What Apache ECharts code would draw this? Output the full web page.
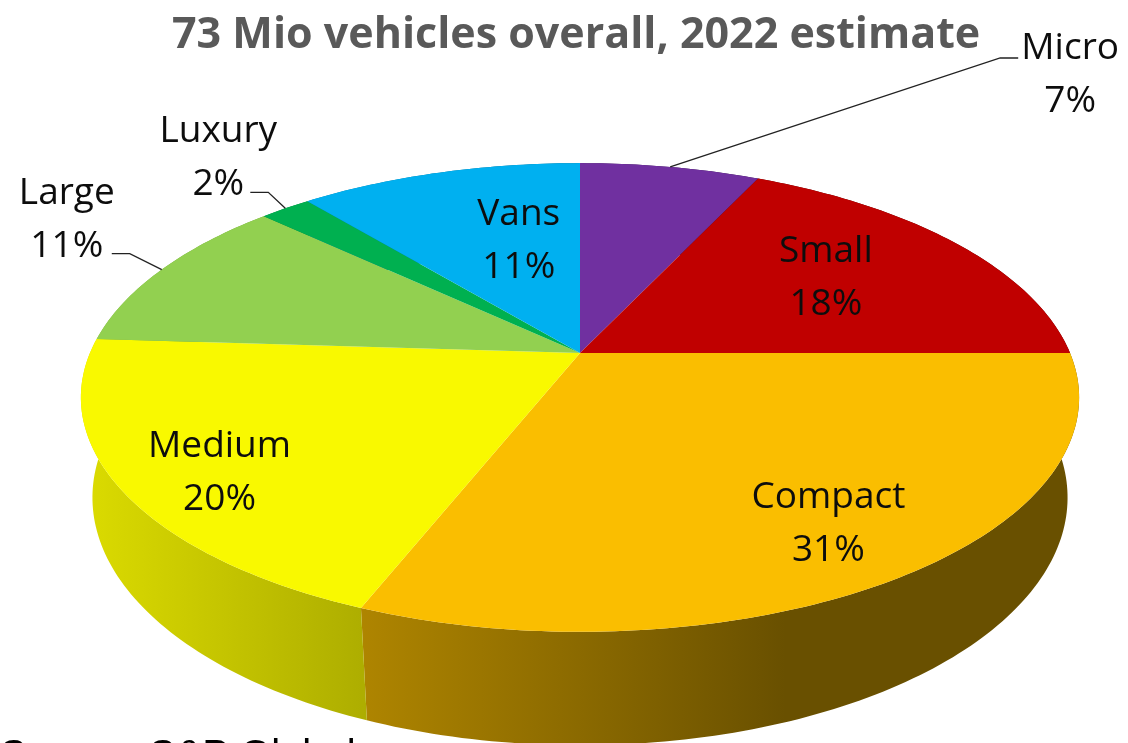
<!DOCTYPE html>
<html>
<head>
<meta charset="utf-8">
<title>73 Mio vehicles overall, 2022 estimate</title>
<script src="https://cdn.jsdelivr.net/npm/echarts@6/dist/echarts.min.js"></script>
<style>
html, body { margin: 0; padding: 0; background: #fff; }
#chart { width: 1128px; height: 743px; }
</style>
</head>
<body>
<div id="chart"></div>
<script>
// segments and their share in percent
var categories = ['Micro', 'Small', 'Compact', 'Medium', 'Large', 'Luxury', 'Vans'];
var shares = [7, 18, 31, 20, 11, 2, 11];
var sliceColors = ['#7030A0', '#C00000', '#FABE00', '#F9F900', '#92D050', '#00B050', '#00B0F0'];

// where the labels go: inside ones by radius r and position t in the slice,
// outside ones at dx,dy from the rim with a leader line
var labelLayout = {
  Micro:   { outside: true, dx: 400, dy: -94, elbow: [-70, -15], end: [-52, -15] },
  Small:   { r: 0.65, t: 0.47 },
  Compact: { r: 0.79, t: 0.5 },
  Medium:  { r: 0.82, t: 0.46 },
  Large:   { outside: true, dx: -95, dy: -52, elbow: [63, 36], end: [45, 36] },
  Luxury:  { outside: true, dx: -67, dy: -52, elbow: [50, 36], end: [32, 36] },
  Vans:    { r: 0.577, t: 0.65 }
};

// simple perspective camera for the tilted pie
var view = { cx: 580, cy: 353, f: 2292, dist: 4.677, tilt: 27.45, height: 0.232 };
var sinA = Math.sin(view.tilt * Math.PI / 180);
var cosA = Math.cos(view.tilt * Math.PI / 180);

function project(deg, r, z) {
  var a = deg * Math.PI / 180;
  var wx = r * Math.sin(a), wy = r * Math.cos(a);
  var up = wy * sinA + z * cosA;
  var d = view.dist + wy * cosA - z * sinA;
  return [view.cx + view.f * wx / d, view.cy - view.f * up / d];
}

function arc(a0, a1, r, z) {
  var n = Math.max(2, Math.ceil(Math.abs(a1 - a0)));
  var pts = [];
  for (var k = 0; k <= n; k++) {
    pts.push(project(a0 + (a1 - a0) * k / n, r, z));
  }
  return pts;
}

function shade(hex, k) {
  var c = echarts.color.parse(hex);
  return 'rgb(' + Math.round(c[0] * k) + ',' + Math.round(c[1] * k) + ',' + Math.round(c[2] * k) + ')';
}

// angles clockwise from 12 o'clock
var total = shares.reduce(function (s, v) { return s + v; }, 0);
var startAngles = [], endAngles = [];
var acc = 0;
shares.forEach(function (v) {
  startAngles.push(acc / total * 360);
  acc += v;
  endAngles.push(acc / total * 360);
});

function renderSide(params, api) {
  var i = params.dataIndex;
  var a0 = startAngles[i], a1 = endAngles[i];
  var pts = arc(a0, a1, 1, 0).concat(arc(a1, a0, 1, -view.height));
  var base = sliceColors[i];
  return {
    type: 'polygon',
    silent: true,
    shape: { points: pts },
    style: {
      fill: new echarts.graphic.LinearGradient(80, 0, 1080, 0, [
        { offset: 0, color: shade(base, 0.885) },
        { offset: 0.705, color: shade(base, 0.42) },
        { offset: 1, color: shade(base, 0.42) }
      ], true)
    }
  };
}

function renderTop(params, api) {
  var i = params.dataIndex;
  var a0 = startAngles[i], a1 = endAngles[i];
  var name = categories[i];
  var lay = labelLayout[name];
  var children = [{
    type: 'polygon',
    shape: { points: [[view.cx, view.cy]].concat(arc(a0, a1, 1, 0)) },
    style: { fill: sliceColors[i] }
  }];
  var pos;
  if (lay.outside) {
    var anchor = project((a0 + a1) / 2, 1, 0);
    pos = [anchor[0] + lay.dx, anchor[1] + lay.dy];
    children.push({
      type: 'polyline',
      shape: { points: [anchor, [pos[0] + lay.elbow[0], pos[1] + lay.elbow[1]], [pos[0] + lay.end[0], pos[1] + lay.end[1]]] },
      style: { stroke: '#222', lineWidth: 1.3, fill: null }
    });
  } else {
    pos = project(a0 + (a1 - a0) * lay.t, lay.r, 0);
  }
  children.push({
    type: 'text',
    z2: 10,
    style: {
      text: name + '\n' + api.value(0) + '%',
      x: pos[0], y: pos[1] + 2,
      align: 'center', verticalAlign: 'middle',
      fontFamily: 'Open Sans', fontSize: 37, lineHeight: 53,
      fill: '#0d0d0d'
    }
  });
  return { type: 'group', children: children };
}

var chart = echarts.init(document.getElementById('chart'));
chart.setOption({
  animation: false,
  title: {
    text: '73 Mio vehicles overall, 2022 estimate',
    left: 167, top: 9,
    textStyle: { fontFamily: 'Open Sans', fontWeight: 'bold', fontSize: 43, color: '#595959' }
  },
  graphic: [{
    type: 'text',
    left: 0, top: 737,
    style: { text: 'Source: S&P Global', font: '40px "Liberation Sans"', fill: '#000' }
  }],
  series: [
    { type: 'custom', coordinateSystem: 'none', z: 1, renderItem: renderSide, data: shares },
    { type: 'custom', coordinateSystem: 'none', z: 2, renderItem: renderTop, data: shares }
  ]
});
</script>
</body>
</html>
